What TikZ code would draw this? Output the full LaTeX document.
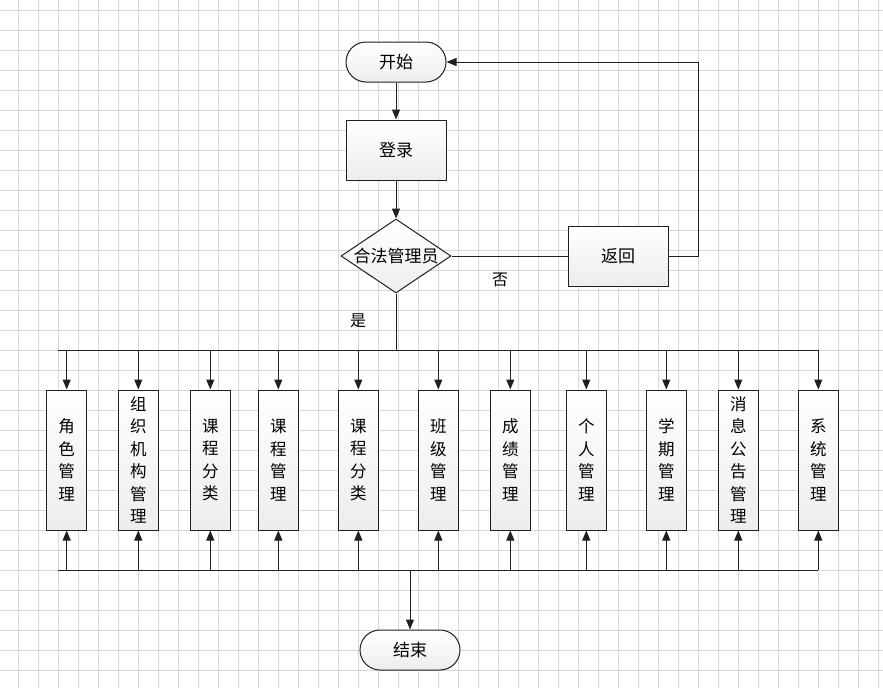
\documentclass[tikz,border=0pt]{standalone}
\usepackage{fontspec}
\newfontfamily\cjk{Noto Sans CJK SC}
\usetikzlibrary{positioning}
\usetikzlibrary{calc}
\usetikzlibrary{arrows.meta}
\usetikzlibrary{shapes.geometric}

\begin{document}
\begin{tikzpicture}[x=1pt, y=-1pt,
        grade/.style={draw=gray!32, line width=1pt},
        linha/.style={draw=gray!25!black, line width=1pt},
        seta/.style={linha, -{Triangle[length=10pt, width=8pt]}},
        caixa/.style={linha, rectangle, top color=white, bottom color=gray!14,
                      font=\cjk\fontsize{17}{22.5}\selectfont, align=center, inner sep=0pt},
        terminal/.style={caixa, minimum width=100pt, minimum height=40pt, rounded corners=20pt},
        processo/.style={caixa, minimum width=100pt, minimum height=60pt},
        decisao/.style={caixa, diamond, aspect=1.5, minimum width=110pt, minimum height=74pt,
                        font=\cjk\fontsize{17}{20}\selectfont},
        modulo/.style={caixa, minimum width=40pt, minimum height=140pt,
                       font=\cjk\fontsize{16.5}{22.5}\selectfont},
        rotulo/.style={font=\cjk\fontsize{16}{18}\selectfont, text=black}]

        % Fundo e grade
        \useasboundingbox (0,0) rectangle (883,688);
        \fill[white] (0,0) rectangle (883,688);
        \foreach \x in {18,38,...,878}
            \draw[grade] (\x,0) -- (\x,688);
        \foreach \y in {10,30,...,670}
            \draw[grade] (0,\y) -- (883,\y);

        % Definindo nós
        \node[terminal] (inicio) at (396,62) {开始};
        \node[processo] (login) at (396,150) {登录};
        \node[decisao] (valido) at (396,256) {合法管理员};
        \node[processo] (voltar) at (618,256) {返回};
        \node[terminal] (fim) at (410,650) {结束};

        \foreach \x/\texto [count=\i] in {66.7/{角\\色\\管\\理}, 138.3/{组\\织\\机\\构\\管\\理},
                                          210.3/{课\\程\\分\\类}, 278.3/{课\\程\\管\\理},
                                          358.3/{课\\程\\分\\类}, 438.3/{班\\级\\管\\理},
                                          510.3/{成\\绩\\管\\理}, 586.3/{个\\人\\管\\理},
                                          666.3/{学\\期\\管\\理}, 738.3/{消\\息\\公\\告\\管\\理},
                                          818.3/{系\\统\\管\\理}}
            \node[modulo] (m\i) at (\x,460) {\texto};

        \coordinate (supEsq) at (58,350);
        \coordinate (infEsq) at (58,570);

        % Definindo arestas
        \draw[seta] (inicio) -- (login);
        \draw[seta] (login) -- (valido);
        \draw[linha] (valido.east) -- (voltar.west);
        \draw[seta] (voltar.east) -- ++(30,0) |- (inicio.east);
        \draw[linha] (valido.south) -- (valido.south |- supEsq);
        \draw[linha] (supEsq) -- (m11.north |- supEsq);
        \draw[linha] (infEsq) -- (m11.south |- infEsq);
        \foreach \i in {1,...,11} {
            \draw[seta] (m\i.north |- supEsq) -- (m\i.north);
            \draw[seta] (m\i.south |- infEsq) -- (m\i.south);
        }
        \draw[seta] (fim.north |- infEsq) -- (fim.north);

        % Rótulos
        \node[rotulo] (sim) at (358,321) {是};
        \node[rotulo] (nao) at (500,280) {否};

    \end{tikzpicture}
\end{document}
